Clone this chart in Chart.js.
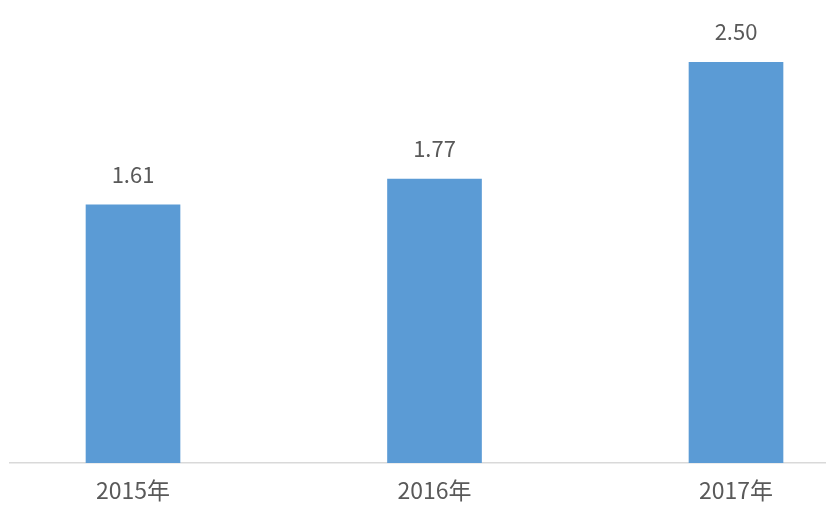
<!DOCTYPE html>
<html>
<head>
<meta charset="utf-8">
<script src="https://cdn.jsdelivr.net/npm/chart.js@4"></script>
<style>
html,body{margin:0;padding:0;background:#fff;}
#wrap{width:826px;height:510px;position:relative;}
</style>
</head>
<body>
<div id="wrap"><canvas id="c" width="826" height="510"></canvas></div>
<script>
const categories = ['2015年', '2016年', '2017年'];
const values = [1.61, 1.77, 2.50];
const valueLabels = ['1.61', '1.77', '2.50'];

const FONT = '"Noto Sans CJK SC", "Noto Sans", sans-serif';
const TEXT = '#595959';

const labelPlugin = {
  id: 'valueLabels',
  afterDatasetsDraw(chart) {
    const ctx = chart.ctx;
    const meta = chart.getDatasetMeta(0);
    ctx.save();
    ctx.font = '22px ' + FONT;
    ctx.fillStyle = TEXT;
    ctx.textAlign = 'center';
    ctx.textBaseline = 'middle';
    meta.data.forEach((bar, i) => {
      ctx.fillText(valueLabels[i], bar.x, bar.y - 30);
    });
    ctx.restore();
  }
};

new Chart(document.getElementById('c'), {
  type: 'bar',
  data: {
    datasets: [{
      data: values.map((v, i) => ({x: i, y: v})),
      backgroundColor: '#5B9BD5',
      borderWidth: 0,
      barThickness: 94
    }]
  },
  options: {
    responsive: false,
    animation: false,
    devicePixelRatio: 1,
    layout: {padding: {left: 10, right: 0, top: 62, bottom: -6.6}},
    plugins: {legend: {display: false}, tooltip: {enabled: false}},
    scales: {
      x: {
        type: 'linear',
        offset: false,
        min: -0.408,
        max: 2.2985,
        grid: {display: false, drawTicks: false},
        border: {display: true, color: '#d9d9d9', width: 1.5},
        afterBuildTicks(scale) {
          scale.ticks = categories.map((c, i) => ({value: i}));
        },
        ticks: {
          padding: 13,
          color: TEXT,
          font: {size: 23, family: FONT},
          autoSkip: false,
          maxRotation: 0,
          callback: (v) => categories[v]
        }
      },
      y: {
        display: false,
        min: 0,
        max: 2.5
      }
    }
  },
  plugins: [labelPlugin]
});
</script>
</body>
</html>
